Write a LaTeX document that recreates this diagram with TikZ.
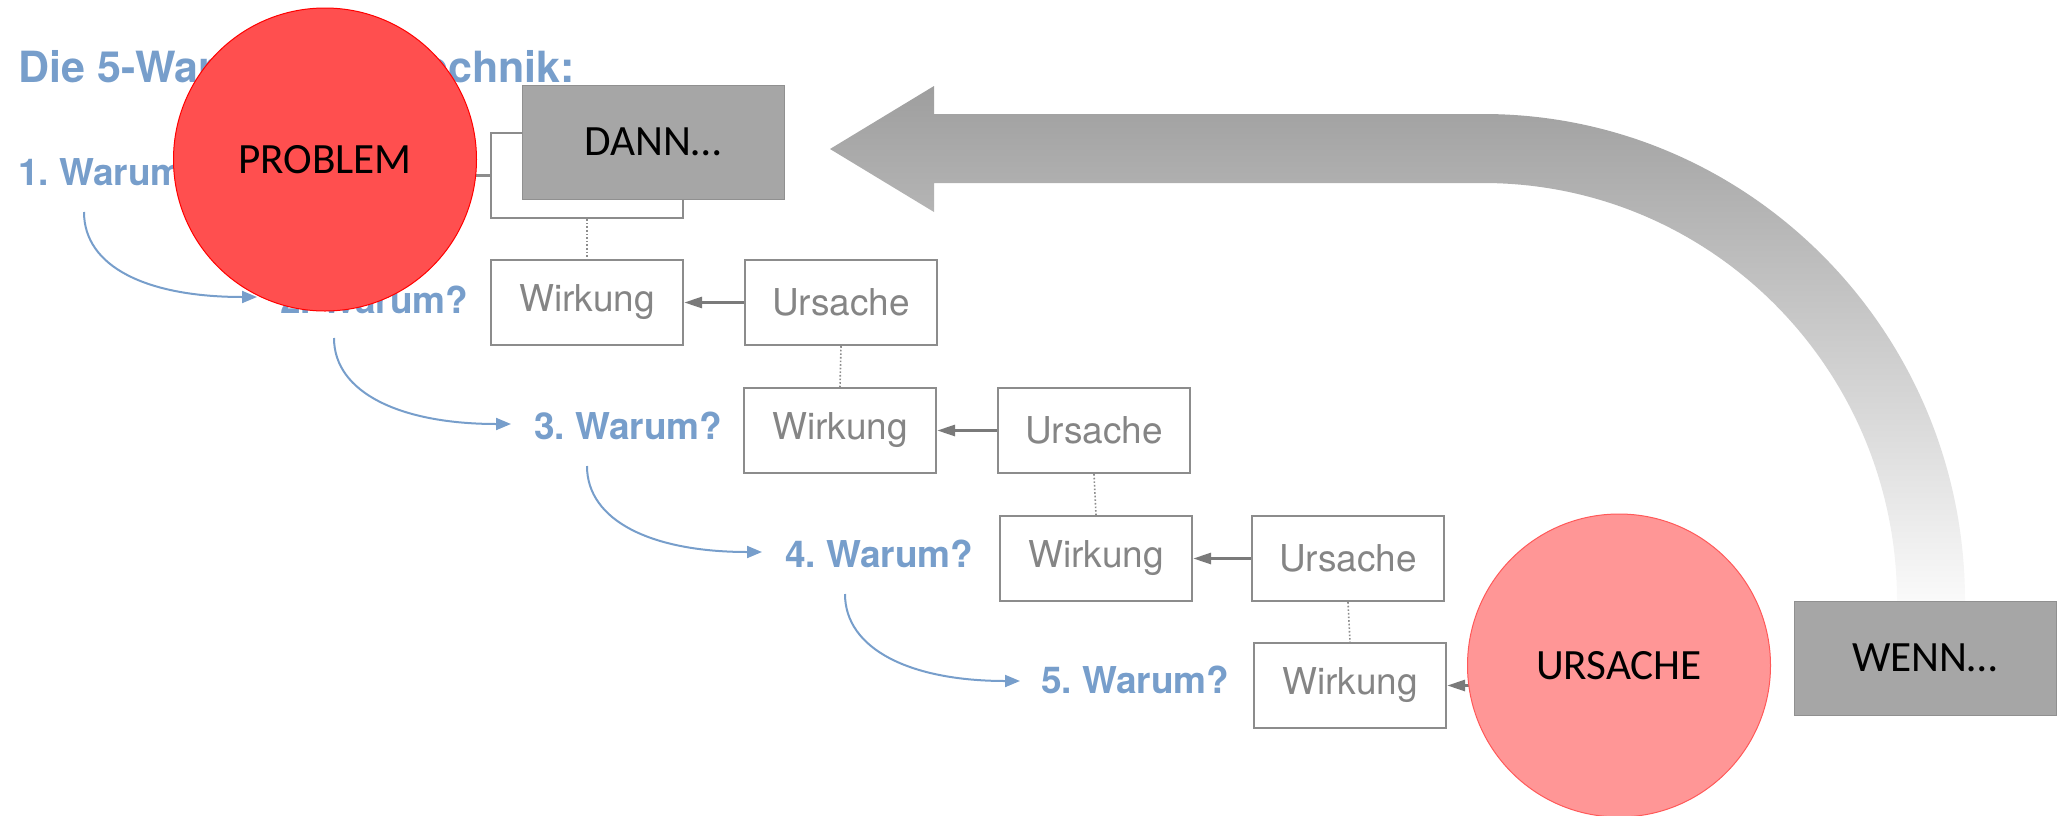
\documentclass[tikz,border=0pt]{standalone}
\usepackage{fontspec}
\setmainfont{TeX Gyre Heros}
\newfontfamily\calibri{Carlito}
\usetikzlibrary{arrows.meta,backgrounds}
\frenchspacing

\definecolor{whyblue}{HTML}{779ECB}
\definecolor{boxgray}{HTML}{8C8C8C}
\definecolor{boxtext}{HTML}{858585}
\definecolor{causegray}{HTML}{7A7A7A}
\definecolor{problemred}{HTML}{FF4F4F}
\definecolor{causered}{HTML}{FF9696}
\definecolor{slabgray}{HTML}{A6A6A6}
\definecolor{slabedge}{HTML}{909090}

\begin{document}
\begin{tikzpicture}[x=0.5pt,y=-0.5pt,
  stepbox/.style={draw=boxgray, line width=1.15pt, fill=white,
    minimum width=96pt, minimum height=42.5pt, inner sep=0pt,
    text=boxtext, font=\fontsize{18.5}{20}\selectfont},
  whylabel/.style={anchor=base west, inner sep=0pt, text=whyblue,
    font=\bfseries\fontsize{18.5}{20}\selectfont},
  whyarrow/.style={draw=whyblue, line width=1pt,
    -{Triangle[length=7.5pt,width=6pt]}},
  cause/.style={draw=causegray, line width=1.5pt,
    -{Triangle[length=9pt,width=5.5pt]}},
  link/.style={draw=boxgray, line width=0.8pt, densely dotted},
  boxline/.style={draw=boxgray, line width=1.15pt},
  slab/.style={fill=slabgray, draw=slabedge, line width=0.5pt,
    minimum width=131pt, minimum height=57pt, inner sep=0pt,
    font=\calibri\fontsize{21.6}{23}\selectfont},
  disc/.style={circle, minimum size=151.5pt, inner sep=0pt, line width=0.5pt,
    font=\calibri\fontsize{21.6}{23}\selectfont}
]
\useasboundingbox (0,0) rectangle (2062,815);

% heading and the five questions
\node[anchor=base west, inner sep=0pt, text=whyblue,
  font=\bfseries\fontsize{21.5}{24}\selectfont] (title) at (18,82) {Die 5-Warum-Fragetechnik:};
\node[whylabel] (l1) at (18,185)   {1. Warum?};
\node[whylabel] (l2) at (280,313)  {2. Warum?};
\node[whylabel] (l3) at (534,439)  {3. Warum?};
\node[whylabel] (l4) at (785,567)  {4. Warum?};
\node[whylabel] (l5) at (1041,693) {5. Warum?};

% effect / cause chain
\node[stepbox] (w1) at (587,175.5)  {};
\node[stepbox] (w2) at (587,302.5)  {Wirkung};
\node[stepbox] (u2) at (841,302.5)  {Ursache};
\node[stepbox] (w3) at (840,430.5)  {Wirkung};
\node[stepbox] (u3) at (1094,430.5) {Ursache};
\node[stepbox] (w4) at (1096,558.5) {Wirkung};
\node[stepbox] (u4) at (1348,558.5) {Ursache};
\node[stepbox] (w5) at (1350,685.5) {Wirkung};

\draw[cause] (u2) -- (w2);
\draw[cause] (u3) -- (w3);
\draw[cause] (u4) -- (w4);

\draw[link] (w1.south) -- (w2.north);
\draw[link] (u2.south) -- (w3.north);
\draw[link] (u3.south) -- (w4.north);
\draw[link] (u4.south) -- (w5.north);

% question-to-question arrows
\draw[whyarrow] ([shift={(66,27)}]l1.base west)
  .. controls +(0,55) and +(-110,0) .. ([shift={(-23,-16)}]l2.base west);
\draw[whyarrow] ([shift={(54,25)}]l2.base west)
  .. controls +(0,55) and +(-110,0) .. ([shift={(-23,-15)}]l3.base west);
\draw[whyarrow] ([shift={(53,27)}]l3.base west)
  .. controls +(0,55) and +(-110,0) .. ([shift={(-23,-15)}]l4.base west);
\draw[whyarrow] ([shift={(60,27)}]l4.base west)
  .. controls +(0,55) and +(-110,0) .. ([shift={(-21,-12)}]l5.base west);

% big return arrow from WENN to DANN
\shade[top color=black!38, middle color=black!19, bottom color=black!2]
  (830,149) -- (934,86) -- (934,114) -- (1483,114)
  .. controls (1749,114) and (1965,332) .. (1965,601)
  -- (1897,601)
  .. controls (1897,370) and (1712,183) .. (1483,183)
  -- (934,183) -- (934,212) -- cycle;

% overlays
\node[disc, fill=problemred, draw=red] (prob) at (325,159.5) {PROBLEM};
\node[disc, fill=causered, draw=red!65] (urs) at (1619,665.5) {URSACHE};
\node[slab] (dann) at (653,142) {DANN…};
\node[slab] (wenn) at (1925,658) {WENN…};

\begin{pgfonlayer}{background}
  \draw[boxline] (prob.center |- w1.west) -- (w1.west);
  \draw[cause] (urs.center |- w5.east) -- (w5.east);
\end{pgfonlayer}
\end{tikzpicture}
\end{document}
